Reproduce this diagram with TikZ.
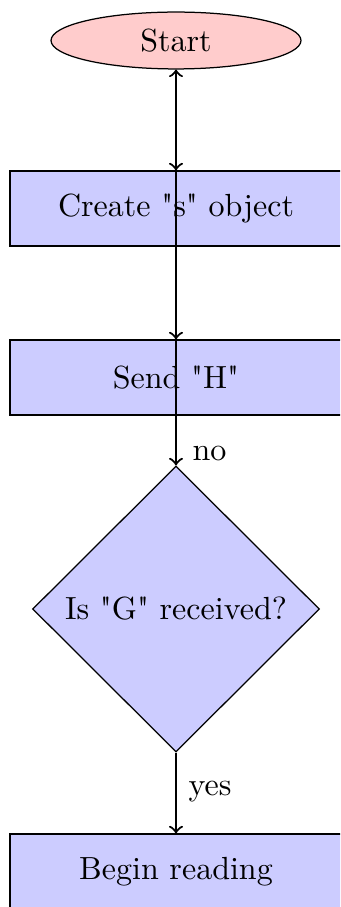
\documentclass[tikz,border=0pt]{standalone}
\usetikzlibrary{shapes.geometric}
\font\plainq="[lmroman10-regular.otf]" at 10.25pt
\newcommand\sq{{\plainq\char"22}}
\begin{document}
\begin{tikzpicture}[x=0.32pt,y=-0.32pt,
  every node/.style={font=\fontsize{10.25pt}{12pt}\selectfont},
  startstop/.style={ellipse,draw,fill=red!20,minimum width=80pt,minimum height=18.2pt,inner sep=0pt,line width=0.4pt},
  procbox/.style={rectangle,draw,fill=blue!20,minimum width=106.2pt,minimum height=24pt,inner sep=0pt,line width=0.4pt},
  decbox/.style={diamond,draw,fill=blue!20,minimum width=91.8pt,minimum height=91.5pt,inner sep=0pt,line width=0.4pt},
  conn/.style={->,line width=0.7pt},
  lab/.style={anchor=west,inner sep=0pt}]
\clip (0,0) rectangle (340,907);
\node[startstop] (start) at (176,40.5) {Start};
\node[procbox] (create) at (176,208.5) {Create \sq s\sq\ object};
\node[procbox] (send) at (176,377.5) {Send \sq H\sq};
\node[decbox] (dec) at (176,609) {Is \sq G\sq\ received?};
\node[procbox] (begin) at (176,871.5) {Begin reading};
\draw[conn] (start) -- (create);
\draw[conn] (create) -- (send);
\draw[conn] (send) -- (dec);
\draw[conn] (dec) -- (start);
\draw[conn] (dec) -- (begin);
\node[lab] (no) at (192,453) {no};
\node[lab] (yes) at (188,792) {yes};
\end{tikzpicture}
\end{document}
